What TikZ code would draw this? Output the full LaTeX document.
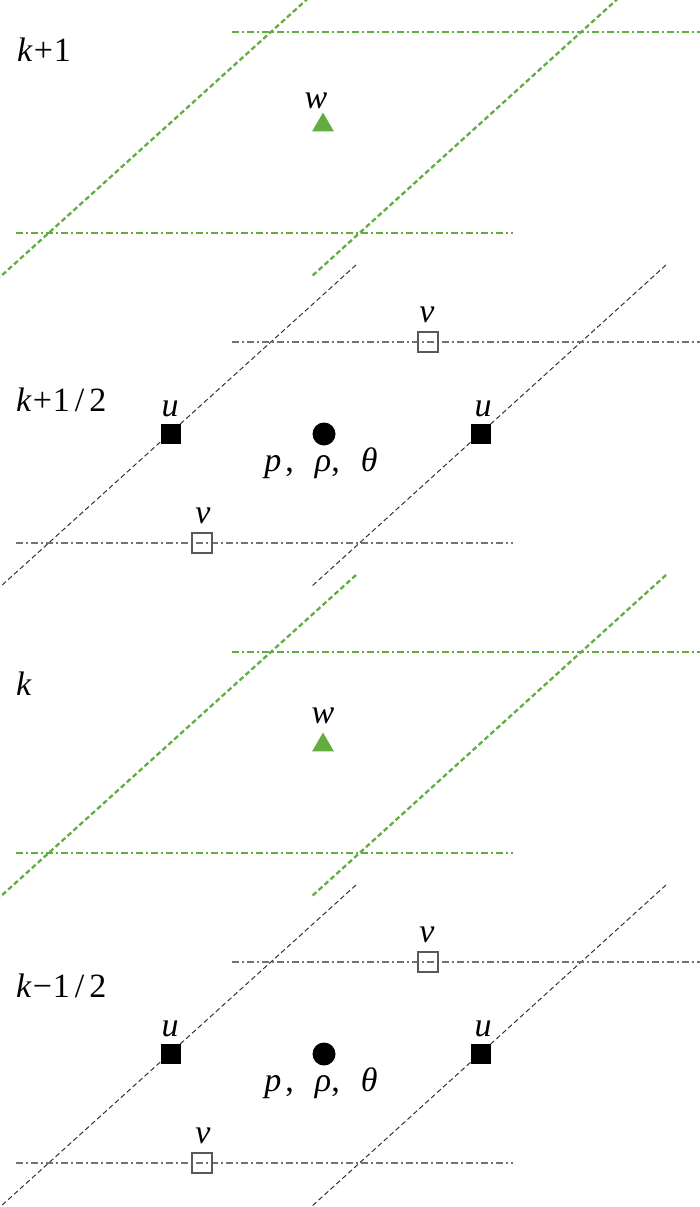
\documentclass[tikz,border=0pt]{standalone}
\usepackage{fontspec}
\setmainfont{Liberation Serif}
\usetikzlibrary{shapes.geometric}
\definecolor{gr}{RGB}{98,172,64}
\begin{document}
\begin{tikzpicture}[x=1pt,y=-1pt,
  lbl/.style={font=\fontsize{34}{34}\selectfont, inner sep=0pt},
  greendiag/.style={draw=gr, line width=2.3pt, dash pattern=on 5pt off 3pt},
  greenhor/.style={draw=gr, line width=2.3pt, dash pattern=on 7pt off 3pt on 2pt off 3pt},
  graydiag/.style={draw=black!80, line width=1pt, dash pattern=on 5pt off 3pt},
  grayhor/.style={draw=black!55, line width=1.2pt, dash pattern=on 7pt off 3pt on 2pt off 3pt},
  usq/.style={fill=black, minimum size=20pt, inner sep=0pt},
  vsq/.style={draw=black!65, line width=1.2pt, minimum size=20pt, inner sep=0pt},
  wtri/.style={regular polygon, regular polygon sides=3, fill=gr, minimum size=25pt, inner sep=0pt},
  pdot/.style={circle, fill=black, minimum size=23pt, inner sep=0pt}]
\useasboundingbox (0,0) rectangle (700,1207);
\begin{scope}
\clip (0,0) rectangle (700,1207);
% green (full-level) sections
\foreach \o/\n in {-620/a, 0/b}{
  \coordinate (gLt\n) at (356,575+\o);
  \coordinate (gLb\n) at (0,897+\o);
  \coordinate (gRt\n) at (666,575+\o);
  \coordinate (gRb\n) at (311,897+\o);
  \coordinate (gUl\n) at (232,652+\o);
  \coordinate (gUr\n) at (700,652+\o);
  \coordinate (gDl\n) at (16,853+\o);
  \coordinate (gDr\n) at (513,853+\o);
  \draw[greendiag] (gLt\n) -- (gLb\n);
  \draw[greendiag] (gRt\n) -- (gRb\n);
  \draw[greenhor] (gUl\n) -- (gUr\n);
  \draw[greenhor] (gDl\n) -- (gDr\n);
  \node[wtri] (tri\n) at (323,745+\o) {};
}
% gray (half-level) sections
\foreach \o/\n in {-620/a, 0/b}{
  \coordinate (hLt\n) at (356,885+\o);
  \coordinate (hLb\n) at (0,1207+\o);
  \coordinate (hRt\n) at (666,885+\o);
  \coordinate (hRb\n) at (311,1207+\o);
  \coordinate (hUl\n) at (232,962+\o);
  \coordinate (hUr\n) at (700,962+\o);
  \coordinate (hDl\n) at (16,1163+\o);
  \coordinate (hDr\n) at (513,1163+\o);
  \draw[graydiag] (hLt\n) -- (hLb\n);
  \draw[graydiag] (hRt\n) -- (hRb\n);
  \draw[grayhor] (hUl\n) -- (hUr\n);
  \draw[grayhor] (hDl\n) -- (hDr\n);
  \node[vsq] (vU\n) at (428,962+\o) {};
  \node[vsq] (vD\n) at (202,1163+\o) {};
  \node[usq] (uL\n) at (171,1054+\o) {};
  \node[usq] (uR\n) at (481,1054+\o) {};
  \node[pdot] (dot\n) at (324,1054+\o) {};
  \node[lbl, anchor=base] (vUl\n) at (427,942+\o) {\textit{v}};
  \node[lbl, anchor=base] (vDl\n) at (203,1143+\o) {\textit{v}};
  \node[lbl, anchor=base] (uLl\n) at (170,1036+\o) {\textit{u}};
  \node[lbl, anchor=base] (uRl\n) at (483,1036+\o) {\textit{u}};
  \node[lbl, anchor=base] (vars\n) at (321,1091+\o) {\textit{p}\kern4pt,\kern21pt\textit{ρ},\kern21pt\textit{θ}};
}
\end{scope}
\node[lbl, anchor=base] (wa) at (316,108) {\textit{w}};
\node[lbl, anchor=base] (wb) at (323,723) {\textit{w}};
\node[lbl, anchor=base west] (Lk1) at (17,62) {\textit{k}\kern1pt+\kern1pt1};
\node[lbl, anchor=base west] (Lkh) at (16,411) {\textit{k}\kern1pt+\kern1pt1\kern5pt/\kern5pt2};
\node[lbl, anchor=base west] (Lk) at (16,695) {\textit{k}};
\node[lbl, anchor=base west] (Lkm) at (16,997) {\textit{k}\kern1pt−\kern1pt1\kern5pt/\kern5pt2};
\end{tikzpicture}
\end{document}
